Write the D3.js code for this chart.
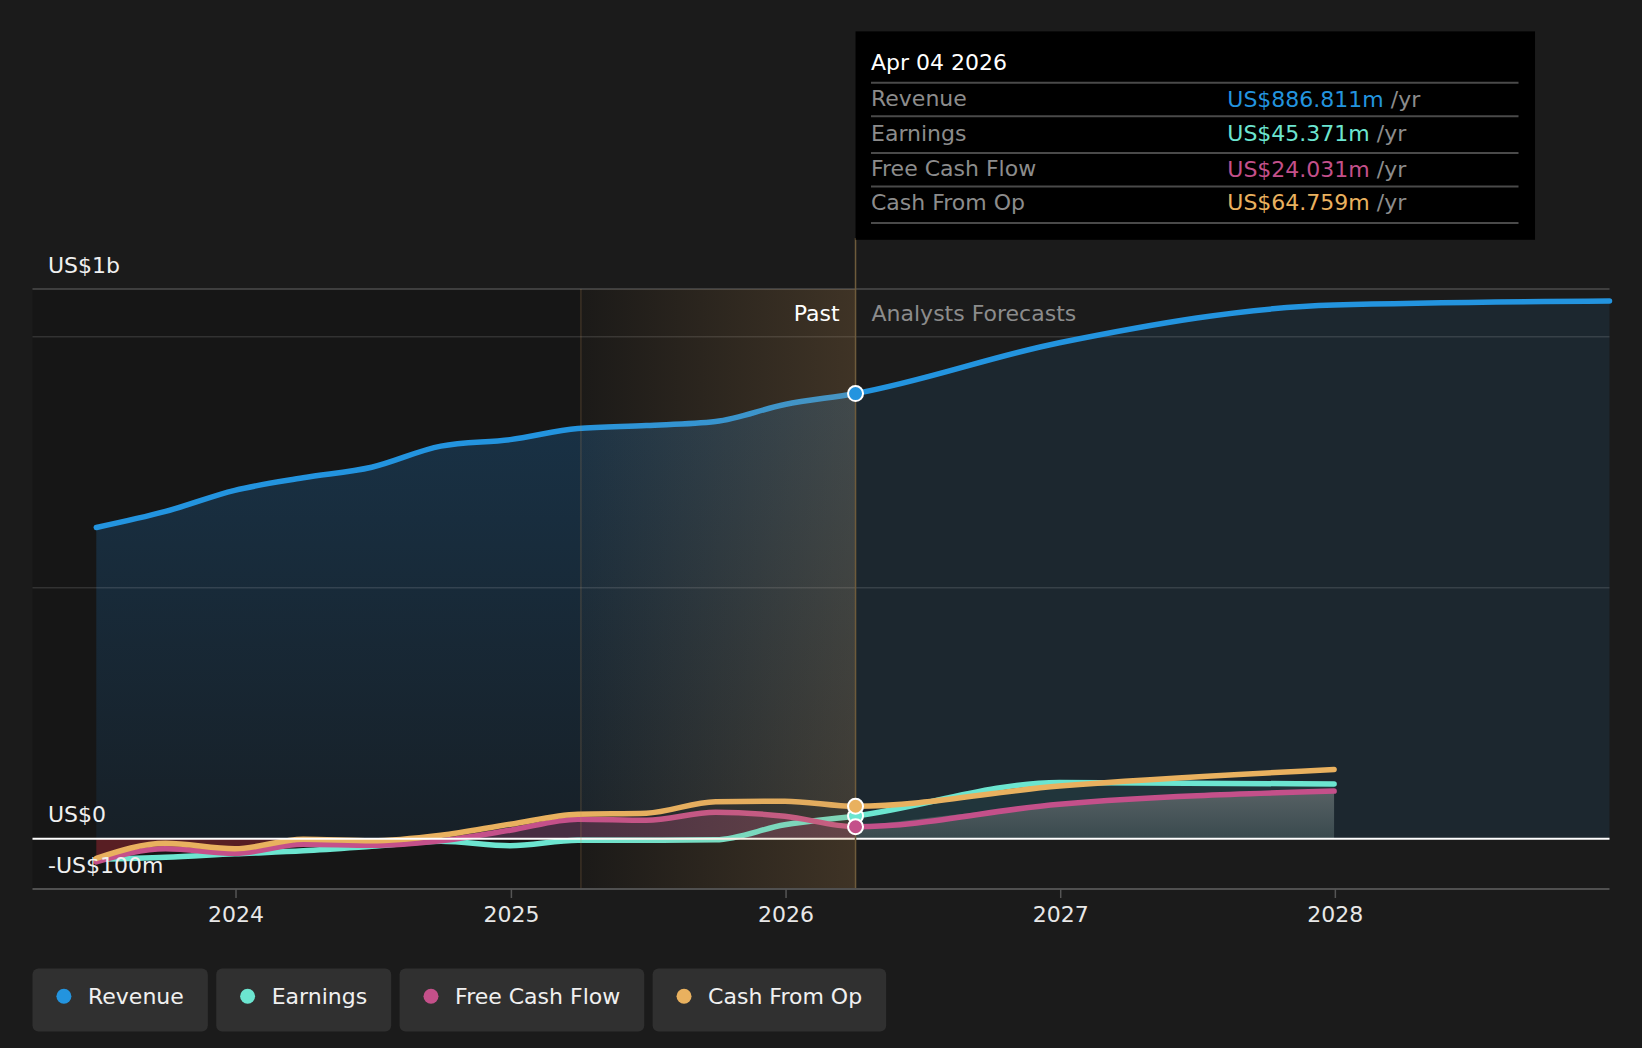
<!DOCTYPE html>
<html>
<head>
<meta charset="utf-8">
<script src="https://cdn.jsdelivr.net/npm/d3@7/dist/d3.min.js"></script>
<style>
    body { margin: 0; background: #1b1b1b; font-family: "DejaVu Sans", sans-serif; }
    svg { display: block; }
</style>
</head>
<body>
<svg id="chart" width="1642" height="1048"></svg>
<script>
// past figures, quarterly (US$ m)
var pastDates    = [ "2023-06-30", "2023-09-30", "2023-12-31", "2024-03-31", "2024-06-30", "2024-09-30",
                     "2024-12-31", "2025-03-31", "2025-06-30", "2025-09-30", "2025-12-31", "2026-04-04" ];
var pastRevenue  = [ 620, 652, 694, 719, 740, 782, 795, 817, 823, 831, 865, 886.811 ];
var pastEarnings = [ -41, -37, -30, -24, -15, -5, -14, -3, -3, -2, 28, 45.371 ];
var pastFcf      = [ -46, -20, -29, -11, -13, -4, 17, 39, 37, 53, 45, 24.031 ];
var pastCfo      = [ -39, -9, -20, -1, -4, 7, 29, 49, 51, 74, 75, 64.759 ];

// analyst forecasts (US$ m)
var fcRevDates   = [ "2026-04-04", "2026-12-31", "2027-12-31", "2028-12-31" ];
var fcRevenue    = [ 886.811, 988, 1063, 1071 ];
var fcDates      = [ "2026-04-04", "2026-12-31", "2027-12-31" ];
var fcEarnings   = [ 45.371, 112, 109 ];
var fcFcf        = [ 24.031, 69, 95 ];
var fcCfo        = [ 64.759, 105, 138 ];

var seriesNames  = [ "Revenue", "Earnings", "Free Cash Flow", "Cash From Op" ];
var seriesColors = [ "#2394df", "#6ce5d0", "#c4508a", "#e9b15f" ];
var tooltipDate  = "Apr 04 2026";
var tooltipVals  = [ "US$886.811m", "US$45.371m", "US$24.031m", "US$64.759m" ];
var yearTicks    = [ 2024, 2025, 2026, 2027, 2028 ];
var gridValues   = [ 500, 1000 ];

var parse = d3.timeParse( "%Y-%m-%d" );
var svg = d3.select( "#chart" );

// scales
var x = d3.scaleTime()
    .domain( [ parse( "2023-06-30" ), parse( "2028-12-31" ) ] )
    .range( [ 96.3, 1609.5 ] );
var y = d3.scaleLinear().domain( [ -100, 1095 ] ).range( [ 889, 289 ] );

var plotLeft = 32.5, plotRight = 1609.5, plotTop = y( 1095 ), plotBottom = y( -100 );
var nowDate = parse( "2026-04-04" );
var xNow = x( nowDate );
var xHi = x( parse( "2025-04-04" ) );

function rows( dates, vals ) {
    return dates.map( function( d, i ) { return { date: parse( d ), v: vals[ i ] }; } );
}
var revPast = rows( pastDates, pastRevenue ), revFc = rows( fcRevDates, fcRevenue );
var earnPast = rows( pastDates, pastEarnings ), earnFc = rows( fcDates, fcEarnings );
var fcfPast = rows( pastDates, pastFcf ), fcfFc = rows( fcDates, fcFcf );
var cfoPast = rows( pastDates, pastCfo ), cfoFc = rows( fcDates, fcCfo );

var line = d3.line().curve( d3.curveMonotoneX )
    .x( function( d ) { return x( d.date ); } )
    .y( function( d ) { return y( d.v ); } );
var area = d3.area().curve( d3.curveMonotoneX )
    .x( function( d ) { return x( d.date ); } )
    .y0( y( 0 ) )
    .y1( function( d ) { return y( d.v ); } );

var defs = svg.append( "defs" );

// gradients
var g1 = defs.append( "linearGradient" ).attr( "id", "hiGrad" );
g1.append( "stop" ).attr( "offset", "0" ).attr( "stop-color", "#c8965a" ).attr( "stop-opacity", 0.03 );
g1.append( "stop" ).attr( "offset", "1" ).attr( "stop-color", "#c8965a" ).attr( "stop-opacity", 0.23 );

var g2 = defs.append( "linearGradient" ).attr( "id", "revPastGrad" )
    .attr( "gradientUnits", "userSpaceOnUse" ).attr( "x1", 0 ).attr( "x2", 0 )
    .attr( "y1", y( 850 ) ).attr( "y2", y( 0 ) );
g2.append( "stop" ).attr( "offset", "0" ).attr( "stop-color", "#1f78c0" ).attr( "stop-opacity", 0.28 );
g2.append( "stop" ).attr( "offset", "1" ).attr( "stop-color", "#1f78c0" ).attr( "stop-opacity", 0.1 );

var g3 = defs.append( "linearGradient" ).attr( "id", "fcfFcGrad" )
    .attr( "gradientUnits", "userSpaceOnUse" ).attr( "x1", 0 ).attr( "x2", 0 )
    .attr( "y1", y( 100 ) ).attr( "y2", y( 0 ) );
g3.append( "stop" ).attr( "offset", "0" ).attr( "stop-color", "#909090" ).attr( "stop-opacity", 0.5 );
g3.append( "stop" ).attr( "offset", "1" ).attr( "stop-color", "#909090" ).attr( "stop-opacity", 0.22 );

defs.append( "clipPath" ).attr( "id", "aboveZero" ).append( "rect" )
    .attr( "x", 0 ).attr( "y", 0 ).attr( "width", 1642 ).attr( "height", y( 0 ) );
defs.append( "clipPath" ).attr( "id", "belowZero" ).append( "rect" )
    .attr( "x", 0 ).attr( "y", y( 0 ) ).attr( "width", 1642 ).attr( "height", 200 );

// past background
svg.append( "rect" )
    .attr( "x", plotLeft ).attr( "y", plotTop )
    .attr( "width", xNow - plotLeft ).attr( "height", plotBottom - plotTop )
    .attr( "fill", "#161616" );

// revenue areas
svg.append( "path" ).datum( revPast ).attr( "d", area ).attr( "fill", "url(#revPastGrad)" );
svg.append( "path" ).datum( revFc ).attr( "d", area ).attr( "fill", "#2394df" ).attr( "fill-opacity", 0.1 );

// earnings / fcf areas
svg.append( "path" ).datum( earnFc ).attr( "d", area ).attr( "fill", "#6ce5d0" ).attr( "fill-opacity", 0.08 );
svg.append( "path" ).datum( fcfFc ).attr( "d", area ).attr( "fill", "url(#fcfFcGrad)" );
svg.append( "path" ).datum( fcfPast ).attr( "d", area )
    .attr( "clip-path", "url(#aboveZero)" ).attr( "fill", "#c4508a" ).attr( "fill-opacity", 0.28 );
svg.append( "path" ).datum( fcfPast ).attr( "d", area )
    .attr( "clip-path", "url(#belowZero)" ).attr( "fill", "#e0303f" ).attr( "fill-opacity", 0.33 );

// grid lines
svg.selectAll( ".grid" ).data( gridValues ).enter().append( "line" )
    .attr( "x1", plotLeft ).attr( "x2", plotRight )
    .attr( "y1", function( d ) { return y( d ); } ).attr( "y2", function( d ) { return y( d ); } )
    .attr( "stroke", "#ffffff" ).attr( "stroke-opacity", 0.12 ).attr( "stroke-width", 1.5 );
svg.append( "line" )
    .attr( "x1", plotLeft ).attr( "x2", plotRight ).attr( "y1", plotTop ).attr( "y2", plotTop )
    .attr( "stroke", "#4d4d4d" ).attr( "stroke-width", 1.5 );

// lines
var lineSets = [ [ revPast.concat( revFc.slice( 1 ) ), 0 ],
                 [ earnPast.concat( earnFc.slice( 1 ) ), 1 ],
                 [ fcfPast.concat( fcfFc.slice( 1 ) ), 2 ],
                 [ cfoPast.concat( cfoFc.slice( 1 ) ), 3 ] ];
lineSets.forEach( function( s ) {
    svg.append( "path" ).datum( s[ 0 ] ).attr( "d", line )
        .attr( "fill", "none" )
        .attr( "stroke", seriesColors[ s[ 1 ] ] )
        .attr( "stroke-width", 5.5 )
        .attr( "stroke-linecap", "round" );
});

// zero line
svg.append( "line" )
    .attr( "x1", plotLeft ).attr( "x2", plotRight ).attr( "y1", y( 0 ) ).attr( "y2", y( 0 ) )
    .attr( "stroke", "#ffffff" ).attr( "stroke-width", 2 );

// last-year highlight
svg.append( "rect" )
    .attr( "x", xHi ).attr( "y", plotTop )
    .attr( "width", xNow - xHi ).attr( "height", plotBottom - plotTop )
    .attr( "fill", "url(#hiGrad)" );
svg.append( "line" )
    .attr( "x1", xHi ).attr( "x2", xHi ).attr( "y1", plotTop ).attr( "y2", plotBottom )
    .attr( "stroke", "#c8965a" ).attr( "stroke-opacity", 0.2 ).attr( "stroke-width", 1.5 );
svg.append( "line" )
    .attr( "x1", xNow ).attr( "x2", xNow ).attr( "y1", 238 ).attr( "y2", plotBottom )
    .attr( "stroke", "#6e5b3b" ).attr( "stroke-width", 1.5 );

// x axis
svg.append( "line" )
    .attr( "x1", plotLeft ).attr( "x2", plotRight ).attr( "y1", plotBottom ).attr( "y2", plotBottom )
    .attr( "stroke", "#505050" ).attr( "stroke-width", 2 );
var xAxis = svg.append( "g" )
    .attr( "transform", "translate(0," + plotBottom + ")" )
    .call( d3.axisBottom( x )
        .tickValues( yearTicks.map( function( yr ) { return new Date( yr, 0, 1 ); } ) )
        .tickFormat( d3.timeFormat( "%Y" ) )
        .tickSize( 9 ).tickPadding( 8 ) );
xAxis.select( ".domain" ).remove();
xAxis.selectAll( ".tick line" ).attr( "stroke", "#555" ).attr( "stroke-width", 1.5 );
xAxis.selectAll( ".tick text" )
    .attr( "fill", "#e8e8e8" ).style( "font-size", "22px" ).style( "font-family", "DejaVu Sans" );

// y labels
var yLabels = [ [ "US$1b", 1095 ], [ "US$0", 0 ], [ "-US$100m", -100 ] ];
svg.selectAll( ".ylab" ).data( yLabels ).enter().append( "text" )
    .attr( "x", 48 )
    .attr( "y", function( d ) { return y( d[ 1 ] ) - 24; } )
    .attr( "dominant-baseline", "central" )
    .attr( "fill", "#f0f0f0" ).style( "font-size", "22px" )
    .text( function( d ) { return d[ 0 ]; } );

// Past / Forecast labels
svg.append( "text" ).attr( "x", xNow - 16 ).attr( "y", 313 )
    .attr( "dominant-baseline", "central" ).attr( "text-anchor", "end" )
    .attr( "fill", "#ffffff" ).style( "font-size", "22px" ).text( "Past" );
svg.append( "text" ).attr( "x", xNow + 16 ).attr( "y", 313 )
    .attr( "dominant-baseline", "central" )
    .attr( "fill", "#8c8c8c" ).style( "font-size", "22px" ).text( "Analysts Forecasts" );

// markers at today
var nowVals = [ pastRevenue[ 11 ], pastEarnings[ 11 ], pastFcf[ 11 ], pastCfo[ 11 ] ];
[ 1, 3, 2, 0 ].forEach( function( i ) {
    svg.append( "circle" )
        .attr( "cx", xNow ).attr( "cy", y( nowVals[ i ] ) ).attr( "r", 7.5 )
        .attr( "fill", seriesColors[ i ] ).attr( "stroke", "#ffffff" ).attr( "stroke-width", 2 );
});

// tooltip
var tip = svg.append( "g" );
tip.append( "rect" ).attr( "x", xNow ).attr( "y", 31.4 ).attr( "width", 679.5 ).attr( "height", 208.4 ).attr( "fill", "#000" );
tip.append( "text" ).attr( "x", 871 ).attr( "y", 62.8 ).attr( "dominant-baseline", "central" )
    .attr( "fill", "#ffffff" ).style( "font-size", "22px" ).text( tooltipDate );
var sepY = [ 82.7, 116.2, 152.9, 186.4, 223 ];
sepY.forEach( function( sy ) {
    tip.append( "line" ).attr( "x1", 871 ).attr( "x2", 1518.5 ).attr( "y1", sy ).attr( "y2", sy )
        .attr( "stroke", "#4a4a4a" ).attr( "stroke-width", 2 );
});
var rowY = [ 98.6, 133.2, 168.8, 202.2 ];
seriesNames.forEach( function( name, i ) {
    tip.append( "text" ).attr( "x", 871 ).attr( "y", rowY[ i ] ).attr( "dominant-baseline", "central" )
        .attr( "fill", "#8c8c8c" ).style( "font-size", "22px" ).text( name );
    var t = tip.append( "text" ).attr( "x", 1227.3 ).attr( "y", rowY[ i ] ).attr( "dominant-baseline", "central" )
        .style( "font-size", "22px" );
    t.append( "tspan" ).attr( "fill", seriesColors[ i ] ).text( tooltipVals[ i ] );
    t.append( "tspan" ).attr( "fill", "#8c8c8c" ).text( " /yr" );
});

// legend
var lx = 32.5;
seriesNames.forEach( function( name, i ) {
    var g = svg.append( "g" ).attr( "transform", "translate(" + lx + ",968.6)" );
    var box = g.append( "rect" ).attr( "height", 62.9 ).attr( "rx", 6 ).attr( "fill", "#303030" );
    g.append( "circle" ).attr( "cx", 31.4 ).attr( "cy", 27.6 ).attr( "r", 7.5 ).attr( "fill", seriesColors[ i ] );
    var t = g.append( "text" ).attr( "x", 55.5 ).attr( "y", 27.6 ).attr( "dominant-baseline", "central" )
        .attr( "fill", "#f0f0f0" ).style( "font-size", "22px" ).text( name );
    var w = 55.5 + t.node().getComputedTextLength() + 24;
    box.attr( "width", w );
    lx += w + 8.4;
});
</script>
</body>
</html>
